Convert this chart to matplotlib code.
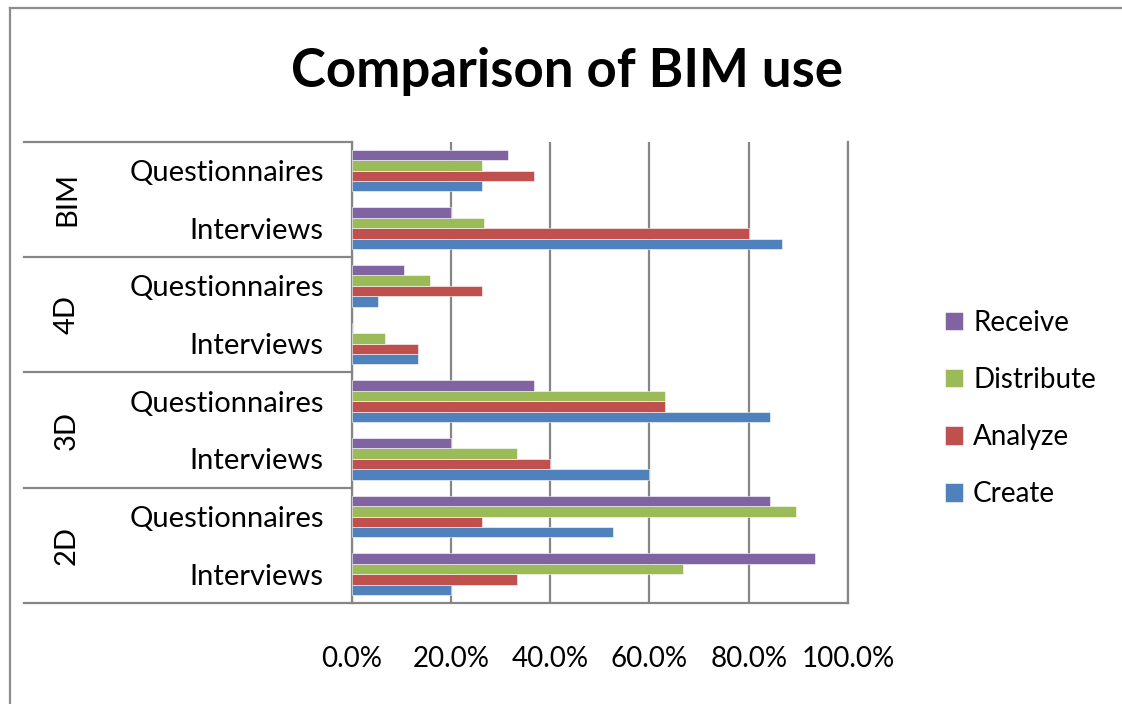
import matplotlib
matplotlib.use("Agg")
import matplotlib.pyplot as plt
from matplotlib.lines import Line2D
from matplotlib.transforms import blended_transform_factory
import numpy as np

plt.rcParams['font.family'] = ['Lato', 'DejaVu Sans']

# rows from bottom to top, two per group
groups = ["2D", "3D", "4D", "BIM"]
sources = ["Interviews", "Questionnaires"]
series = ["Create", "Analyze", "Distribute", "Receive"]
colors = ["#4F81BD", "#C0504D", "#9BBB59", "#8064A2"]

# percent of respondents, row order: 2D Int, 2D Q, 3D Int, 3D Q, 4D Int, 4D Q, BIM Int, BIM Q
create = [20.0, 52.6, 60.0, 84.2, 13.3, 5.3, 86.7, 26.3]
analyze = [33.3, 26.3, 40.0, 63.2, 13.3, 26.3, 80.0, 36.8]
distribute = [66.7, 89.5, 33.3, 63.2, 6.7, 15.8, 26.7, 26.3]
receive = [93.3, 84.2, 20.0, 36.8, 0.0, 10.5, 20.0, 31.6]

ticks = [0, 20, 40, 60, 80, 100]

grey = "#868686"

fig = plt.figure(figsize=(11.22, 7.04), dpi=100)
ax = fig.add_axes([351.5 / 1122, 1 - 603 / 704, 496.5 / 1122, 461.3 / 704])

rows = np.arange(len(groups) * len(sources))
h = 1 / 5.5  # four bars plus a 150% gap per row
bars = []
for i, (vals, c) in enumerate(zip([create, analyze, distribute, receive], colors)):
    b = ax.barh(rows + (i - 1.5) * h, vals, height=h, color=c, label=series[i],
                edgecolor="white", linewidth=0.4, zorder=3)
    bars.append(b)

ax.set_xlim(0, 100)
ax.set_ylim(-0.5, len(rows) - 0.5)
ax.set_xticks(ticks)
ax.set_xticklabels(["%.1f%%" % t for t in ticks], fontsize=20)
ax.tick_params(axis="x", length=0, pad=31)
ax.set_yticks(rows)
ax.set_yticklabels(sources * len(groups), fontsize=21)
ax.tick_params(axis="y", length=0, pad=20)
ax.xaxis.grid(True, color=grey, linewidth=1.6, zorder=0)
ax.set_axisbelow(True)

for s in ["left", "right"]:
    ax.spines[s].set_color(grey)
    ax.spines[s].set_linewidth(1.6)
ax.spines["top"].set_visible(False)
ax.spines["bottom"].set_visible(False)

# category table on the left: group separators, bottom line runs under the plot
tr = ax.get_yaxis_transform()
x0 = (24 - 351.5) / 496.5
for k in range(len(groups) + 1):
    yb = -0.5 + 2 * k
    xend = 1 if k == 0 else 0
    ax.plot([x0, xend], [yb, yb], transform=tr, color=grey,
            linewidth=1.6, clip_on=False, zorder=4)

gtr = blended_transform_factory(fig.transFigure, ax.transData)
for gi, g in enumerate(groups):
    ax.text(67 / 1122, 2 * gi + 0.5, g, transform=gtr,
            rotation=90, ha="center", va="center", fontsize=21)

fig.text(567 / 1122, 1 - 72 / 704, "Comparison of BIM use", ha="center", va="center",
         fontsize=38, fontweight="bold")

# chart border
fig.add_artist(Line2D([10 / 1122, 10 / 1122], [0, 1 - 8 / 704], transform=fig.transFigure,
                      color="#8c8c8c", linewidth=1.6))
fig.add_artist(Line2D([10 / 1122, 1], [1 - 8 / 704, 1 - 8 / 704], transform=fig.transFigure,
                      color="#8c8c8c", linewidth=1.6))

fig.legend(handles=bars[::-1], labels=series[::-1], loc="center left",
           bbox_to_anchor=(945 / 1122, 1 - 408.5 / 704), frameon=False, fontsize=20,
           handlelength=0.65, handleheight=0.65, handletextpad=0.36, labelspacing=1.12,
           borderpad=0, borderaxespad=0)

fig.savefig("out.png", dpi=100)
